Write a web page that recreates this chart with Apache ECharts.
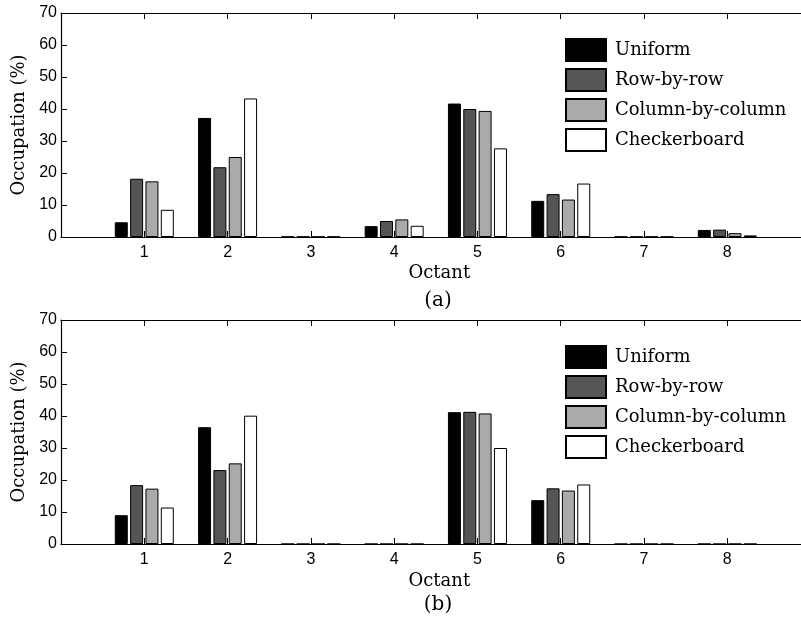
<!DOCTYPE html>
<html>
<head>
<meta charset="utf-8">
<script src="https://cdn.jsdelivr.net/npm/echarts@6/dist/echarts.min.js"></script>
<style>html,body{margin:0;padding:0;background:#fff}#c{width:801px;height:617px}</style>
</head>
<body>
<div id="c"></div>
<script>
const octants = [1, 2, 3, 4, 5, 6, 7, 8];
const seriesNames = ['Uniform', 'Row-by-row', 'Column-by-column', 'Checkerboard'];
const yTicks = [0, 10, 20, 30, 40, 50, 60, 70];
// Panel (a)
const uniformA = [4.6, 37.2, 0.1, 3.4, 41.7, 11.3, 0.1, 2.2];
const rowA     = [18.2, 21.8, 0.1, 5.0, 40.0, 13.4, 0.1, 2.3];
const colA     = [17.4, 25.0, 0.1, 5.5, 39.4, 11.7, 0.1, 1.2];
const checkA   = [8.5, 43.3, 0.1, 3.5, 27.7, 16.7, 0.1, 0.5];
// Panel (b)
const uniformB = [9.0, 36.5, 0, 0, 41.2, 13.7, 0, 0];
const rowB     = [18.4, 23.1, 0, 0, 41.3, 17.4, 0, 0];
const colB     = [17.3, 25.2, 0, 0, 40.8, 16.7, 0, 0];
const checkB   = [11.4, 40.1, 0, 0, 30.0, 18.6, 0, 0];

const colors = ['#000000', '#555555', '#aaaaaa', '#ffffff'];
const serif = 'DejaVu Serif';
const sans = 'Liberation Sans';

const grids = [
  {left: 61, top: 13, width: 749.6, height: 224, outerBoundsMode: 'none', containLabel: false},
  {left: 61, top: 320, width: 749.6, height: 224, outerBoundsMode: 'none', containLabel: false}
];

function xAxes(g, gap) {
  return [{
    type: 'value', gridIndex: g, position: 'bottom', min: 0, max: 9, interval: 1,
    axisLine: {onZero: false, lineStyle: {color: '#000', width: 1.2}},
    axisTick: {inside: true, length: 6, lineStyle: {color: '#000'}},
    axisLabel: {formatter: v => (v >= 1 && v <= 8) ? String(v) : '', color: '#000', fontSize: 16, fontFamily: sans, margin: 8},
    splitLine: {show: false},
    name: 'Octant', nameLocation: 'middle', nameGap: gap,
    nameTextStyle: {fontFamily: serif, fontSize: 18, color: '#000', padding: [0, 0, 0, 7]}
  }, {
    type: 'value', gridIndex: g, position: 'top', min: 0, max: 9, interval: 1,
    axisLine: {onZero: false, lineStyle: {color: '#000', width: 1.2}},
    axisTick: {inside: true, length: 6, lineStyle: {color: '#000'}},
    axisLabel: {show: false}, splitLine: {show: false}
  }];
}
function yAxis(g) {
  return {
    type: 'value', gridIndex: g, min: yTicks[0], max: yTicks[yTicks.length - 1], interval: 10,
    axisLine: {show: true, onZero: false, lineStyle: {color: '#000', width: 1.2}},
    axisTick: {show: true, inside: true, length: 6, lineStyle: {color: '#000'}},
    axisLabel: {color: '#000', fontSize: 16, fontFamily: sans, margin: 4},
    splitLine: {show: false},
    name: 'Occupation (%)', nameLocation: 'middle', nameRotate: 90, nameGap: 30,
    nameTextStyle: {fontFamily: serif, fontSize: 18, color: '#000'}
  };
}

function bars(vals, idx, g) {
  return {
    type: 'bar', name: seriesNames[idx], xAxisIndex: g * 2, yAxisIndex: g,
    data: octants.map((o, i) => [o, vals[i]]),
    barWidth: 13, barGap: '18%',
    itemStyle: {color: colors[idx], borderColor: '#000', borderWidth: 1},
    emphasis: {disabled: true}
  };
}

const legendBase = {
  orient: 'vertical', left: 565, padding: 0, itemWidth: 40, itemHeight: 22, itemGap: 6,
  icon: 'rect',
  textStyle: {fontFamily: serif, fontSize: 18, lineHeight: 18, color: '#000', padding: [0, 0, 0, 4]},
  data: seriesNames, selectedMode: false
};

const chart = echarts.init(document.getElementById('c'), null, {renderer: 'canvas'});
chart.setOption({
  animation: false,
  backgroundColor: '#fff',
  grid: grids,
  xAxis: [...xAxes(0, 27), ...xAxes(1, 28)],
  yAxis: [yAxis(0), yAxis(1)],
  legend: [Object.assign({top: 38}, legendBase), Object.assign({top: 345}, legendBase)],
  series: [
    bars(uniformA, 0, 0), bars(rowA, 1, 0), bars(colA, 2, 0), bars(checkA, 3, 0),
    bars(uniformB, 0, 1), bars(rowB, 1, 1), bars(colB, 2, 1), bars(checkB, 3, 1)
  ],
  graphic: [
    {type: 'text', x: 438, y: 301, style: {text: '(a)', font: '20px "DejaVu Serif"', fill: '#000', align: 'center', verticalAlign: 'middle'}},
    {type: 'text', x: 438, y: 605, style: {text: '(b)', font: '20px "DejaVu Serif"', fill: '#000', align: 'center', verticalAlign: 'middle'}}
  ]
});
</script>
</body>
</html>
